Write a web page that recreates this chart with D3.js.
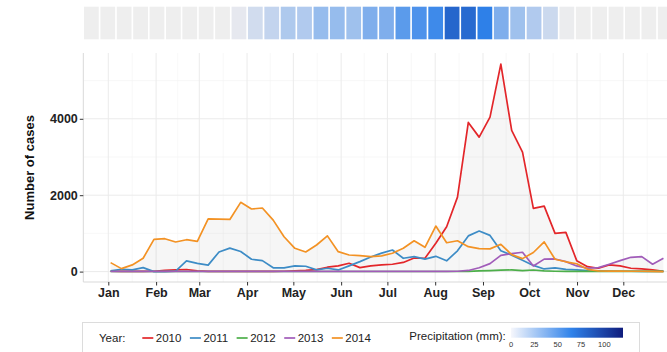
<!DOCTYPE html>
<html>
<head>
<meta charset="utf-8">
<script src="https://cdn.jsdelivr.net/npm/d3@7"></script>
<style>
  html, body { margin: 0; padding: 0; background: #fff; }
  svg { display: block; font-family: "Liberation Sans", Arial, Helvetica, sans-serif; }
</style>
</head>
<body>
<svg id="chart" width="667" height="352"></svg>
<script>
// ---------- data ----------
const weeks = d3.range(1, 53);
const years = ["2010", "2011", "2012", "2013", "2014"];
const yearColors = ["#e3262a", "#3d8cc6", "#4daf4a", "#a15cb9", "#f39224"];

const cases2010 = [10,5,5,5,10,30,45,55,20,5,5,5,5,5,5,5,10,20,30,50,115,149,219,104,149,175,193,240,355,349,741,1173,1950,3905,3520,4042,5430,3695,3129,1653,1713,1001,1027,287,130,88,175,149,88,70,44,10];
const cases2011 = [18,62,44,104,0,0,15,279,214,170,514,614,527,323,287,100,100,149,140,44,88,44,149,261,383,483,566,349,391,327,400,283,544,935,1061,948,544,431,300,162,70,96,57,44,25,20,15,10,10,8,5,5];
const cases2012 = [3,3,3,3,3,3,3,3,3,3,3,3,3,3,3,3,3,3,3,3,3,3,3,3,3,3,3,3,3,3,3,3,3,5,20,28,40,44,28,42,20,10,6,5,5,5,5,5,5,5,5,5];
const cases2013 = [8,8,8,8,8,8,8,8,8,8,8,8,8,8,8,8,8,8,8,8,8,8,8,8,8,8,8,8,8,8,8,8,10,30,100,210,425,470,506,149,327,331,261,149,88,104,193,287,375,391,193,349];
const cases2014 = [235,78,175,349,845,861,775,835,793,1382,1374,1366,1813,1639,1665,1348,913,610,514,696,935,522,435,417,390,412,480,610,808,636,1192,756,808,652,600,595,714,445,340,500,778,323,257,205,60,20,15,15,10,10,5,0];
const seriesValues = [cases2010, cases2011, cases2012, cases2013, cases2014];

const dekads = d3.range(1, 37);
const precipitation = [0,0,0,0,0,0,0,0,0,3,10,15,22,21,30,30,27,38,38,50,55,60,80,78,66,38,27,21,12,1,0,0,0,0,0,0];

const monthLabels = ["Jan","Feb","Mar","Apr","May","Jun","Jul","Aug","Sep","Oct","Nov","Dec"];
const yTicks = [0, 2000, 4000];
const yMinor = [1000, 3000, 5000];
const precipTicks = [0, 25, 50, 75, 100];

// ---------- setup ----------
const svg = d3.select("#chart");
svg.append("rect").attr("width", 667).attr("height", 352).attr("fill", "#fff");

const panel = { left: 83.3, top: 53, bottom: 282, right: 690 };
const DAY = 86400000;
const jan1 = new Date(2014, 0, 1);
const dateOfWeek = w => new Date(jan1.getTime() + (1.5 + (w - 1) * 7.03) * DAY);
const monthDates = monthLabels.map((m, i) => new Date(2014, i, 1));

const x = d3.scaleTime()
  .domain([new Date(2014, 0, 1), new Date(2014, 11, 1)])
  .range([108.3, 623.3]);
const y = d3.scaleLinear().domain([-272, 5722]).range([panel.bottom, panel.top]);

// ---------- precipitation strip ----------
const precipColor = d3.scaleLinear()
  .domain([0, 3, 65, 120])
  .range(["#eeeeee", "#e6e8ef", "#2f82ea", "#0f1c7c"])
  .clamp(true);
const legendColor = d3.scaleLinear()
  .domain([0, 65, 120])
  .range(["#f6f7fc", "#2f82ea", "#0f1c7c"])
  .clamp(true);

const xb = d3.scaleBand().domain(dekads).range([84, 672.6]).paddingInner(0.1);
svg.append("g").selectAll("rect").data(dekads).join("rect")
  .attr("x", d => xb(d)).attr("y", 6.7)
  .attr("width", xb.bandwidth()).attr("height", 32.6)
  .attr("fill", (d, i) => precipColor(precipitation[i]));

// ---------- panel ----------
svg.append("clipPath").attr("id", "pclip").append("rect")
  .attr("x", panel.left).attr("y", panel.top)
  .attr("width", panel.right - panel.left).attr("height", panel.bottom - panel.top);

const g = svg.append("g").attr("clip-path", "url(#pclip)");

// grid
const xMinor = [];
for (let i = 0; i < 12; i++) {
  const a = new Date(2014, i, 1), b = new Date(2014, i + 1, 1);
  xMinor.push(new Date((a.getTime() + b.getTime()) / 2));
}
g.selectAll(".ymin").data(yMinor).join("line")
  .attr("x1", panel.left).attr("x2", panel.right)
  .attr("y1", d => y(d)).attr("y2", d => y(d))
  .attr("stroke", "#f3f3f3").attr("stroke-width", 0.6);
g.selectAll(".xmin").data(xMinor).join("line")
  .attr("y1", panel.top).attr("y2", panel.bottom)
  .attr("x1", d => x(d)).attr("x2", d => x(d))
  .attr("stroke", "#f3f3f3").attr("stroke-width", 0.6);
g.selectAll(".ymaj").data(yTicks).join("line")
  .attr("x1", panel.left).attr("x2", panel.right)
  .attr("y1", d => y(d)).attr("y2", d => y(d))
  .attr("stroke", "#ebebeb").attr("stroke-width", 1);
g.selectAll(".xmaj").data(monthDates).join("line")
  .attr("y1", panel.top).attr("y2", panel.bottom)
  .attr("x1", d => x(d)).attr("x2", d => x(d))
  .attr("stroke", "#ebebeb").attr("stroke-width", 1);

// envelope area
const envelope = weeks.map((w, i) => ({ w, v: d3.max(seriesValues, s => s[i]) }));
g.append("path").datum(envelope)
  .attr("d", d3.area().x(d => x(dateOfWeek(d.w))).y0(y(0)).y1(d => y(d.v)))
  .attr("fill", "#000").attr("fill-opacity", 0.035);

// lines
const line = d3.line().x(d => x(dateOfWeek(d.w))).y(d => y(d.v));
seriesValues.forEach((vals, si) => {
  g.append("path")
    .datum(weeks.map((w, i) => ({ w, v: vals[i] })))
    .attr("d", line)
    .attr("fill", "none")
    .attr("stroke", yearColors[si])
    .attr("stroke-width", 1.7)
    .attr("stroke-linejoin", "round");
});

// axes lines (panel border left/bottom)
svg.append("line").attr("x1", panel.left).attr("x2", panel.left)
  .attr("y1", panel.top).attr("y2", panel.bottom).attr("stroke", "#d9d9d9").attr("stroke-width", 1);
svg.append("line").attr("x1", panel.left).attr("x2", 667)
  .attr("y1", panel.bottom).attr("y2", panel.bottom).attr("stroke", "#d9d9d9").attr("stroke-width", 1);

// y axis
const yAxis = d3.axisLeft(y).tickValues(yTicks).tickFormat(d3.format("d")).tickSize(3.5).tickPadding(2);
const ya = svg.append("g").attr("transform", `translate(${panel.left},0)`).call(yAxis);
ya.select(".domain").remove();
ya.selectAll("line").attr("stroke", "#333");
ya.selectAll("text").attr("font-size", 12.5).attr("font-weight", "bold").attr("fill", "#222")
  .attr("font-family", "Liberation Sans, Arial, sans-serif");

// x axis
const xAxis = d3.axisBottom(x).tickValues(monthDates).tickFormat((d, i) => monthLabels[i]).tickSize(3.5).tickPadding(3);
const xa = svg.append("g").attr("transform", `translate(0,${panel.bottom})`).call(xAxis);
xa.select(".domain").remove();
xa.selectAll("line").attr("stroke", "#333");
xa.selectAll("text").attr("font-size", 12.5).attr("font-weight", "bold").attr("fill", "#222")
  .attr("font-family", "Liberation Sans, Arial, sans-serif");

// y title
svg.append("text")
  .attr("transform", `translate(34,${(panel.top + panel.bottom) / 2}) rotate(-90)`)
  .attr("text-anchor", "middle")
  .attr("font-size", 13).attr("font-weight", "bold").attr("fill", "#111")
  .text("Number of cases");

// ---------- legend ----------
const leg = svg.append("g");
leg.append("rect").attr("x", 82.5).attr("y", 322.5).attr("width", 557).attr("height", 40)
  .attr("fill", "#fff").attr("stroke", "#dcdcdc").attr("stroke-width", 1);

const ly = 338;
leg.append("text").attr("x", 99).attr("y", ly).attr("dy", "0.35em")
  .attr("font-size", 11.5).attr("fill", "#222").text("Year:");

let lx = 142.3;
years.forEach((yr, i) => {
  leg.append("line").attr("x1", lx).attr("x2", lx + 11).attr("y1", ly).attr("y2", ly)
    .attr("stroke", yearColors[i]).attr("stroke-width", 1.7);
  const t = leg.append("text").attr("x", lx + 13.5).attr("y", ly).attr("dy", "0.35em")
    .attr("font-size", 11.5).attr("fill", "#222").text(yr);
  lx += 13.5 + t.node().getComputedTextLength() + 8.5;
});

leg.append("text").attr("x", 409.3).attr("y", ly - 2).attr("dy", "0.35em")
  .attr("font-size", 11.5).attr("fill", "#222").text("Precipitation (mm):");

const cb = d3.scaleLinear().domain([0, 120]).range([511, 623]);
const grad = svg.append("defs").append("linearGradient").attr("id", "pgrad")
  .attr("x1", "0%").attr("x2", "100%").attr("y1", "0%").attr("y2", "0%");
d3.range(0, 121, 5).forEach(v => {
  grad.append("stop").attr("offset", (v / 120 * 100) + "%").attr("stop-color", legendColor(v));
});
leg.append("rect").attr("x", cb(0)).attr("y", 327.7).attr("width", cb(120) - cb(0)).attr("height", 10)
  .attr("fill", "url(#pgrad)");
leg.selectAll(".pt").data(precipTicks).join("text")
  .attr("x", d => cb(d)).attr("y", 346.5).attr("text-anchor", "middle")
  .attr("font-size", 7.5).attr("fill", "#333").text(d => d);
</script>
</body>
</html>
